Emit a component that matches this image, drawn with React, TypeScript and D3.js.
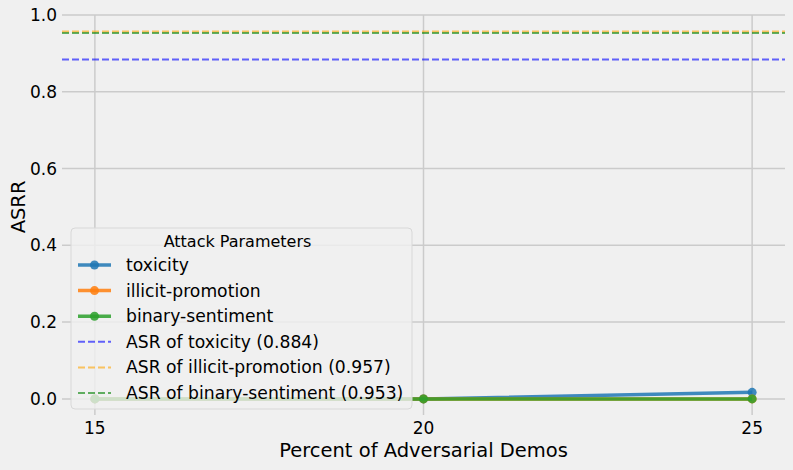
import React from "react";
import * as d3 from "d3";

const xValues = [15, 20, 25];
const toxicity = [0, 0, 0.017];
const illicitPromotion = [0, 0, 0];
const binarySentiment = [0, 0, 0];
const asrValues = [0.884, 0.957, 0.953];
const asrNames = ["toxicity", "illicit-promotion", "binary-sentiment"];
const yTicks = [0, 0.2, 0.4, 0.6, 0.8, 1.0];
const xTicks = [15, 20, 25];

const W = 793, H = 470;
const FONT = "DejaVu Sans, sans-serif";

export default function App() {
  const x = d3.scaleLinear().domain([14.5, 25.5]).range([62, 785]);
  const y = d3.scaleLinear().domain([-0.042, 1.0]).range([415, 15]);
  const line = d3.line<number>().x((_, i) => x(xValues[i])).y((d) => y(d));

  const series = [
    { name: "toxicity", data: toxicity, color: "#1f77b4" },
    { name: "illicit-promotion", data: illicitPromotion, color: "#ff7f0e" },
    { name: "binary-sentiment", data: binarySentiment, color: "#2ca02c" },
  ];
  const dashColors = ["#0000ff", "#ffa500", "#008000"];

  const legX = 71, legY = 228, legW = 341, legH = 181;
  const rowY = (i: number) => 265 + i * 25.6;

  return (
    <svg width={W} height={H} style={{ position: "absolute", left: 0, top: 0, background: "#f0f0f0" }} fontFamily={FONT}>
      <rect x={0} y={0} width={W} height={H} fill="#f0f0f0" />
      {yTicks.map((t) => (
        <line key={"gy" + t} x1={x(14.5)} x2={x(25.5)} y1={y(t)} y2={y(t)} stroke="#cbcbcb" strokeWidth={1.5} />
      ))}
      {xTicks.map((t) => (
        <line key={"gx" + t} x1={x(t)} x2={x(t)} y1={y(1.0)} y2={y(-0.042)} stroke="#cbcbcb" strokeWidth={1.5} />
      ))}
      {yTicks.map((t) => (
        <text key={"ty" + t} x={57} y={y(t)} dy="0.35em" textAnchor="end" fontSize={17} fill="#000">
          {t.toFixed(1)}
        </text>
      ))}
      {xTicks.map((t) => (
        <text key={"tx" + t} x={x(t)} y={434} textAnchor="middle" fontSize={17} fill="#000">
          {t}
        </text>
      ))}
      <text x={x(20)} y={457} textAnchor="middle" fontSize={19.5} fill="#000">Percent of Adversarial Demos</text>
      <text transform={`translate(25,${y(0.5)}) rotate(-90)`} textAnchor="middle" fontSize={19.5} fill="#000">ASRR</text>
      {asrValues.map((v, i) => (
        <line key={"asr" + i} x1={x(14.5)} x2={x(25.5)} y1={y(v)} y2={y(v)} stroke={dashColors[i]} strokeOpacity={0.6} strokeWidth={2} strokeDasharray="7,3" />
      ))}
      {series.map((s) => (
        <g key={s.name}>
          <path d={line(s.data) || ""} fill="none" stroke={s.color} strokeOpacity={0.85} strokeWidth={3.5} />
          {s.data.map((d, i) => (
            <circle key={i} cx={x(xValues[i])} cy={y(d)} r={4.5} fill={s.color} fillOpacity={0.85} />
          ))}
        </g>
      ))}
      <rect x={legX} y={legY} width={legW} height={legH} rx={4} fill="#f0f0f0" fillOpacity={0.8} stroke="#d8d8d8" strokeWidth={1} />
      <text x={legX + legW / 2 - 4} y={241} dy="0.35em" textAnchor="middle" fontSize={16} fill="#000">Attack Parameters</text>
      {series.map((s, i) => (
        <g key={"lg" + s.name}>
          <line x1={78} x2={111} y1={rowY(i)} y2={rowY(i)} stroke={s.color} strokeOpacity={0.85} strokeWidth={3.5} />
          <circle cx={94.5} cy={rowY(i)} r={4.5} fill={s.color} fillOpacity={0.85} />
          <text x={126} y={rowY(i)} dy="0.35em" fontSize={17.2} fill="#000">{s.name}</text>
        </g>
      ))}
      {asrValues.map((v, i) => (
        <g key={"lga" + i}>
          <line x1={78} x2={111} y1={rowY(i + 3)} y2={rowY(i + 3)} stroke={dashColors[i]} strokeOpacity={0.6} strokeWidth={2} strokeDasharray="7,3" />
          <text x={126} y={rowY(i + 3)} dy="0.35em" fontSize={17.2} fill="#000">{`ASR of ${asrNames[i]} (${v.toFixed(3)})`}</text>
        </g>
      ))}
    </svg>
  );
}
